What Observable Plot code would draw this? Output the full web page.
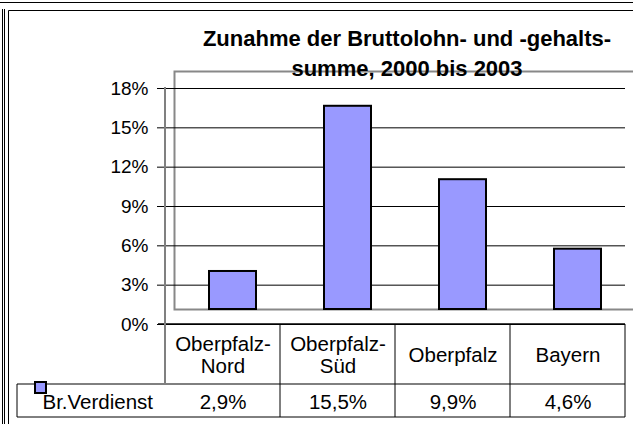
<!DOCTYPE html>
<html><head><meta charset="utf-8">
<script src="https://cdn.jsdelivr.net/npm/d3@7"></script>
<script src="https://cdn.jsdelivr.net/npm/@observablehq/plot@0.6"></script>
<style>
html,body{margin:0;padding:0;background:#fff;overflow:hidden;}
#chart svg{display:block;}
</style>
</head><body><div id="chart"></div>
<script>
// ---- data ----
const categories = ["Oberpfalz-Nord", "Oberpfalz-Süd", "Oberpfalz", "Bayern"];
const headerLabels = ["Oberpfalz-\nNord", "Oberpfalz-\nSüd", "Oberpfalz", "Bayern"];
const values = [2.9, 15.5, 9.9, 4.6];
const valueLabels = ["2,9%", "15,5%", "9,9%", "4,6%"];
const seriesName = "Br.Verdienst";
const yTicks = [0, 3, 6, 9, 12, 15, 18];
const titleLines = ["Zunahme der Bruttolohn- und -gehalts-", "summe, 2000 bis 2003"];

const rows = categories.map((c, i) => ({cat: c, header: headerLabels[i], value: values[i], label: valueLabels[i]}));

// ---- layout / style ----
const font = "'Liberation Sans', Arial, Helvetica, sans-serif";
const barFill = "#9999ff";
const depthX = 10, depthY = -15;
const headerBottom = 384, rowBottom = 417, rowLeft = 17;
const tableFont = 20.5;

function decorations(index, scales, values, dims) {
  const x = scales.x;
  const bw = x.bandwidth();
  const W = dims.width, H = dims.height;
  const top = dims.marginTop, bottom = H - dims.marginBottom;
  const left = x(categories[0]);
  const right = x(categories[categories.length - 1]) + bw;
  const g = d3.create("svg:g").attr("fill", "none");
  // outer page borders
  g.append("line").attr("x1", 0).attr("x2", W).attr("y1", 2.5).attr("y2", 2.5).attr("stroke", "#000");
  for (const xx of [2.5, 4.5]) g.append("line").attr("x1", xx).attr("x2", xx).attr("y1", 9).attr("y2", H).attr("stroke", "#000");
  g.append("path").attr("d", `M8.5,${H}V10.5H${W}`).attr("stroke", "#000");
  // table
  const t = g.append("g").attr("stroke", "#000").attr("stroke-width", 1);
  t.append("line").attr("x1", left - 7).attr("x2", right).attr("y1", bottom).attr("y2", bottom).attr("stroke-width", 1.5);
  t.append("line").attr("x1", rowLeft).attr("x2", right).attr("y1", headerBottom).attr("y2", headerBottom);
  t.append("line").attr("x1", rowLeft).attr("x2", right).attr("y1", rowBottom).attr("y2", rowBottom);
  t.append("line").attr("x1", rowLeft).attr("x2", rowLeft).attr("y1", headerBottom).attr("y2", rowBottom);
  for (let i = 1; i <= categories.length; i++) {
    const xx = i < categories.length ? x(categories[i]) : right;
    t.append("line").attr("x1", xx).attr("x2", xx).attr("y1", bottom).attr("y2", rowBottom);
  }
  // vertical axis line (continues as table border)
  g.append("line").attr("x1", left).attr("x2", left).attr("y1", top - 1).attr("y2", headerBottom)
    .attr("stroke", "#808080").attr("stroke-width", 2);
  return g.node();
}

const chart = Plot.plot({
  width: 633, height: 424,
  marginLeft: 164, marginRight: 8, marginTop: 88, marginBottom: 100,
  style: {fontFamily: font, fontSize: "19px", color: "#000", background: "#fff"},
  x: {type: "band", domain: categories, padding: 0, axis: null},
  y: {domain: [0, 18], axis: null},
  marks: [
    Plot.frame({dx: depthX, dy: depthY, insetTop: -2, stroke: "#888", strokeWidth: 2}),
    Plot.gridY(yTicks, {stroke: "#000", strokeOpacity: 1, strokeWidth: 1}),
    Plot.barY(rows, {x: "cat", y: "value", dx: depthX, dy: depthY, insetLeft: 34, insetRight: 34,
      fill: barFill, stroke: "#000", strokeWidth: 2}),
    Plot.axisY(yTicks, {label: null, tickSize: 7, tickPadding: 9, tickFormat: d => d + "%", fontSize: 19, stroke: "#000"}),
    decorations,
    Plot.text(rows, {filter: d => d.header.includes("\n"), x: "cat", text: "header", frameAnchor: "bottom",
      lineAnchor: "bottom", dy: 48, lineHeight: 1.073, fontSize: tableFont, fill: "#000"}),
    Plot.text(rows, {filter: d => !d.header.includes("\n"), x: "cat", text: "header", frameAnchor: "bottom",
      lineAnchor: "bottom", dy: 37, fontSize: tableFont, fill: "#000"}),
    Plot.text(rows, {x: "cat", text: "label", frameAnchor: "bottom", lineAnchor: "bottom", dy: 84, fontSize: tableFont, fill: "#000"}),
    Plot.text([seriesName], {frameAnchor: "bottom-left", dx: 42 - 164, dy: 84, lineAnchor: "bottom", textAnchor: "start",
      fontSize: tableFont, fill: "#000"}),
    Plot.dot([seriesName], {frameAnchor: "bottom-left", dx: 40 - 164, dy: 63, symbol: "square", r: 6.2,
      fill: barFill, stroke: "#000", strokeWidth: 2}),
    Plot.text([titleLines.join("\n")], {frameAnchor: "top", dx: 12, dy: -13, lineAnchor: "bottom", lineHeight: 1.32,
      fontSize: 22, fontWeight: "bold", fill: "#000"})
  ]
});
document.getElementById("chart").append(chart);
</script>
</body></html>
